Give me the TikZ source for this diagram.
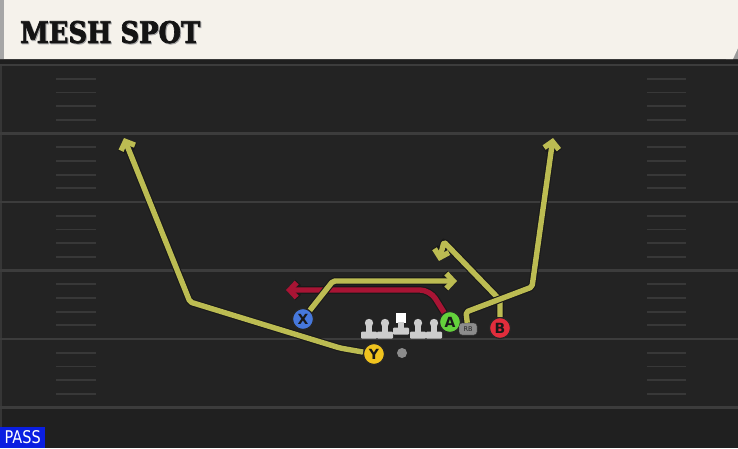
\documentclass[tikz,border=0pt]{standalone}
\usepackage{fontspec}
\setsansfont{DejaVu Sans}
\newfontfamily\titlefont[BoldFeatures={FakeBold=2.5}]{DejaVu Serif}
\newfontfamily\passfont{DejaVu Sans}
\usetikzlibrary{arrows.meta}
\definecolor{fieldbg}{RGB}{35,35,35}
\definecolor{fieldline}{RGB}{60,60,60}
\definecolor{hashcol}{RGB}{56,56,56}
\definecolor{headcream}{RGB}{245,242,235}
\definecolor{routeY}{RGB}{188,188,82}
\definecolor{routeR}{RGB}{168,20,52}
\definecolor{pX}{RGB}{70,120,220}
\definecolor{pY}{RGB}{240,195,30}
\definecolor{pA}{RGB}{100,210,60}
\definecolor{pB}{RGB}{225,45,60}
\definecolor{passblue}{RGB}{10,30,225}
\definecolor{olgrey}{RGB}{205,205,205}
\tikzset{
  player/.style={circle, minimum size=21pt, inner sep=0pt, draw=black!85, line width=1.2pt,
    font=\sffamily\bfseries\fontsize{14}{14}\selectfont, text=black!90},
  route/.style={line width=5.4pt, line join=round, rounded corners=2pt,
    preaction={draw=black!90, line width=7.6pt}},
  yroute/.style={route, draw=routeY},
  rroute/.style={route, draw=routeR},
  tip/.style={-{Straight Barb[length=7pt,width=15pt]}},
  yardline/.style={draw=fieldline, line width=2.2pt},
  hashmark/.style={draw=hashcol, line width=1.8pt},
  lineman/.style={fill=olgrey},
}
\begin{document}
\begin{tikzpicture}[x=1pt,y=-1pt]
\useasboundingbox (0,0) rectangle (738,448);
% field
\fill[fieldbg] (0,0) rectangle (738,448);
\fill[black!8!fieldbg] (0,408) rectangle (738,448);
\draw[draw=black!10!fieldline, line width=1.5pt] (1,64) -- (1,448);
% yard lines
\foreach \y in {65,133.5,202,270.5,339,407.5} {
  \draw[yardline] (0,\y) -- (738,\y);
}
% hash marks
\foreach \y in {65,133.5,202,270.5,339} {
  \foreach \k in {1,2,3,4} {
    \draw[hashmark] (56,{\y+13.7*\k}) -- (96,{\y+13.7*\k});
    \draw[hashmark] (647,{\y+13.7*\k}) -- (686,{\y+13.7*\k});
  }
}
% header
\fill[black!88] (0,58) rectangle (738,64);
\fill[black!40] (726,59) -- (738,44) -- (738,59) -- cycle;
\fill[headcream] (0,0) -- (738,0) -- (738,48) -- (733,59) -- (0,59) -- cycle;
\fill[black!35] (0,0) rectangle (4,59);
\node[anchor=south west, inner sep=0pt, text=black!35] (titleshadow) at (21,44.5) {\resizebox{180pt}{22pt}{\titlefont\bfseries MESH SPOT}};
\node[anchor=south west, inner sep=0pt, text=black!92] (title) at (20,43.5) {\resizebox{180pt}{22pt}{\titlefont\bfseries MESH SPOT}};
% linemen
\foreach \x in {369,385,418,434} {
  \fill[lineman] (\x,323) circle (4.2);
  \fill[lineman] (\x-3,323) rectangle (\x+3,333);
  \fill[lineman, rounded corners=1pt] (\x-8,331.5) rectangle (\x+8,338.5);
}
\fill[white] (396,313) rectangle (406,323);
\fill[lineman] (398,322) rectangle (404,329);
\fill[lineman, rounded corners=1pt] (393,327.5) rectangle (409,334.5);
% ball
\fill[black!45] (402,353) circle (5);
% players
\node[player, fill=pX] (X) at (303,319) {X};
\node[player, fill=pY] (Y) at (374,354) {Y};
\node[player, fill=pA] (A) at (450,322) {A};
\node[player, fill=pB] (B) at (500,328) {B};
\node[draw=black!80, fill=black!45, rounded corners=3pt, minimum width=18pt, minimum height=12pt,
  inner sep=0pt, font=\sffamily\fontsize{6.5}{6.5}\selectfont, text=black!85] (RB) at (468,329) {RB};
% route coordinates
\coordinate (a1) at (430,290);
\coordinate (a2) at (286,290);
\coordinate (x1) at (333,281);
\coordinate (x2) at (457,281);
\coordinate (y1) at (340,348);
\coordinate (y2) at (190,302);
\coordinate (y3) at (124,138);
\coordinate (r1) at (466,312);
\coordinate (r2) at (532,287);
\coordinate (r3) at (553,138);
\coordinate (b1) at (500,300);
\coordinate (b2) at (444,242);
\coordinate (b3) at (439,261);
% routes
\draw[rroute, tip, rounded corners=10pt] (A) -- (a1) -- (a2);
\draw[yroute, tip] (X) -- (x1) -- (x2);
\draw[yroute, tip] (Y) -- (y1) -- (y2) -- (y3);
\draw[yroute, tip] (B) -- (b1) -- (b2) -- (b3);
\draw[yroute, tip] (RB) -- (r1) -- (r2) -- (r3);
% pass label
\node[fill=passblue, text=white, anchor=south west, minimum width=45pt, minimum height=21pt,
  inner sep=0pt] (pass) at (0,448) {\resizebox{36pt}{13pt}{\passfont PASS}};
\end{tikzpicture}
\end{document}
